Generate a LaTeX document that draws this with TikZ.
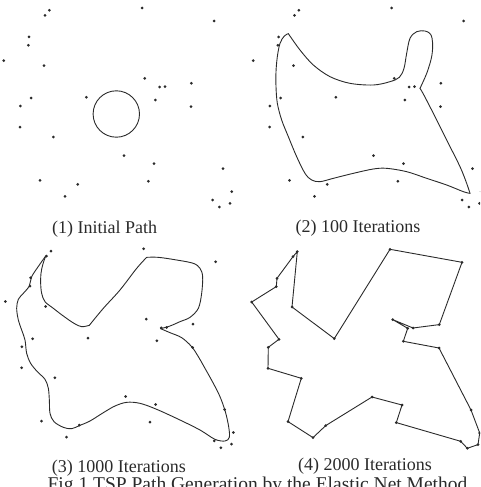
\documentclass[tikz,border=0pt]{standalone}
\usepackage{fontspec}
\setmainfont{Liberation Serif}
\definecolor{ink}{HTML}{2A2A2A}
\begin{document}
\begin{tikzpicture}[x=1pt,y=-1pt,
  city/.style={circle,fill=ink,inner sep=0pt,minimum size=3pt},
  curve/.style={draw=ink,line width=0.9pt,line join=round,line cap=round},
  lbl/.style={font=\fontsize{18}{20}\selectfont,text=ink,anchor=base,inner sep=0pt}]
\useasboundingbox (0,0) rectangle (480,487);
\clip (0,0) rectangle (480,487);
\def\cities{49.3/10.3, 45/15.3, 29/37, 28.3/45.3, 3.7/60.7, 44/65.7, 31/98, 20.3/106, 20/127, 53.3/137,
 40/180.3, 65/196.3, 77.7/184.3, 86.3/97.3, 124/155.7, 142/8, 144.7/78.3, 159.7/87, 165/86.7, 155.3/100,
 154/163.7, 148.3/181.3, 191.3/83.3, 191/106.7, 214/21, 223/168.7, 231.7/191.7, 212.7/200, 219.3/207, 230/203.3}
% panel 1
\begin{scope}
  \foreach \cx/\cy [count=\i] in \cities { \node[city] (a\i) at (\cx,\cy) {}; }
  \node[draw=ink,line width=0.9pt,circle,inner sep=0pt,minimum size=46.4pt] (ring) at (116.3,114) {};
\end{scope}
\node[lbl] (cap1) at (104.7,233) {(1) Initial Path};
% panel 2
\begin{scope}[shift={(249.5,0)}]
  \foreach \cx/\cy [count=\i] in \cities { \node[city] (b\i) at (\cx,\cy) {}; }
\end{scope}
\begin{scope}[shift={(240,0)},scale=0.33333]
  \draw[curve] plot[smooth,tension=0.55] coordinates {(145,101) (180,150) (220,195) (270,230) (330,250) (400,255) (450,245) (478,232) (492,205) (500,160) (510,115) (530,95) (555,93) (572,103) (578,130) (575,170) (562,215) (548,248) (540,265)};
  \draw[curve] plot[smooth,tension=0.55] coordinates {(540,265) (550,282) (580,340) (620,420) (660,500) (680,550) (690,580)};
  \draw[curve] plot[smooth,tension=0.55] coordinates {(690,580) (670,575) (620,555) (560,535) (500,515) (440,505) (400,507) (340,520) (280,535) (240,545) (215,540) (195,520) (170,470) (145,410) (125,360) (112,310) (108,260) (108,215) (112,170) (120,130) (133,108) (145,101)};
\end{scope}
\node[lbl] (cap2) at (358,232) {(2) 100 Iterations};
% panel 3
\begin{scope}[shift={(1.6,240.8)}]
  \foreach \cx/\cy [count=\i] in \cities { \node[city] (c\i) at (\cx,\cy) {}; }
\end{scope}
\begin{scope}[shift={(0,240)},scale=0.33333]
  \draw[curve] plot[smooth,tension=0.55] coordinates {(137,48) (118,75) (95,110) (88,138) (70,160) (55,178) (50,205) (55,240) (65,270) (75,300) (80,340) (92,370) (112,395) (135,418) (145,445) (148,480) (150,520) (162,545) (190,562) (215,566) (240,556) (270,543) (310,518) (345,498) (380,487) (420,490) (470,508) (540,540) (600,570) (645,598) (675,603) (688,592) (686,560) (676,515) (660,470) (640,430) (615,385) (595,350) (575,320) (545,293) (510,278) (482,266)};
  \draw[curve] plot[smooth,tension=0.55] coordinates {(482,266) (510,258) (540,245) (570,232) (595,205) (605,160) (608,110) (600,85) (580,70) (530,60) (475,52) (440,52)};
  \draw[curve] plot[smooth,tension=0.55] coordinates {(440,52) (410,85) (360,150) (310,205) (268,256)};
  \draw[curve] plot[smooth,tension=0.55] coordinates {(268,256) (245,260) (222,250) (190,228) (160,205) (135,185) (125,160) (122,130) (123,100) (128,75) (137,48)};
\end{scope}
\node[lbl] (cap3) at (118.8,472) {(3) 1000 Iterations};
% panel 4
\begin{scope}[shift={(248,241.3)}]
  \foreach \cx/\cy [count=\i] in \cities { \node[city] (d\i) at (\cx,\cy) {}; }
\end{scope}
\draw[curve] (d1.center) -- (d6.center) -- (d14.center) -- (d16.center) -- (d25.center) -- (d23.center)
  -- (d19.center) -- (d17.center) -- (d18.center) -- (d20.center) -- (d24.center) -- (d26.center)
  -- (d27.center) -- (d30.center) -- (d29.center) -- (d28.center) -- (d22.center) -- (d21.center)
  -- (d15.center) -- (d13.center) -- (d12.center) -- (d11.center) -- (d10.center) -- (d9.center)
  -- (d8.center) -- (d7.center) -- (d5.center) -- (d4.center) -- (d3.center) -- (d2.center) -- cycle;
\node[lbl] (cap4) at (365,470.7) {(4) 2000 Iterations};
% figure caption (cut off at the bottom, as in the reference)
\node[lbl,font=\fontsize{19.5}{22}\selectfont] (figcap) at (257.5,490) {Fig.1 TSP Path Generation by the Elastic Net Method};
\end{tikzpicture}
\end{document}
